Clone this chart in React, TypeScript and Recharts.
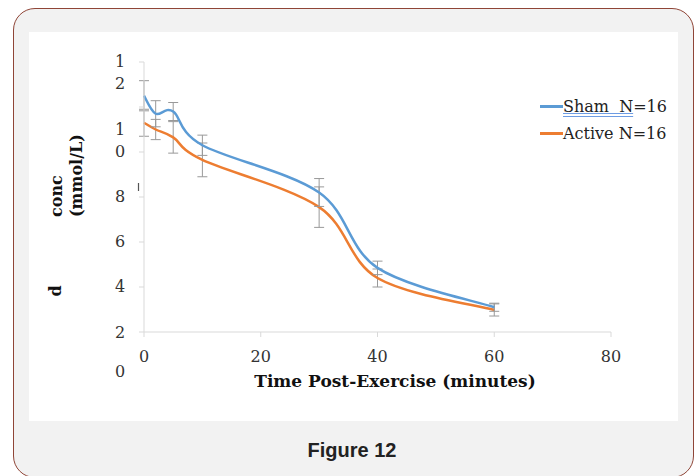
import React from 'react';
import { LineChart, Line, XAxis, YAxis, ErrorBar, Legend } from 'recharts';

// blood lactate after exercise, mean ± error
const minutes = [0, 2, 5, 10, 30, 40, 60];
const shamConc = [10.5, 9.7, 9.8, 8.3, 6.2, 2.85, 1.1];
const shamErr = [0.67, 0.58, 0.4, 0.45, 0.62, 0.3, 0.18];
const activeConc = [9.3, 9.0, 8.65, 7.65, 5.55, 2.4, 0.98];
const activeErr = [0.6, 0.45, 0.7, 0.75, 0.9, 0.4, 0.27];

const xTicks = [0, 20, 40, 60, 80];
const yTicks = [0, 2, 4, 6, 8, 10, 12];
const yTickLabels = ['0', '2', '4', '6', '8', '10', '12'];
const seriesNames = ['Sham  N=16', 'Active N=16'];

const data = minutes.map((t, i) => ({
  t,
  sham: shamConc[i],
  shamErr: shamErr[i],
  active: activeConc[i],
  activeErr: activeErr[i],
}));

const SERIF = '"DejaVu Serif", serif';
const BLUE = '#5b9bd5';
const ORANGE = '#ed7d31';

// Excel-style smoothed line (cardinal bezier, 1/6 tangents)
const excelCurve = (context: any) => {
  let pts: [number, number][] = [];
  return {
    areaStart() {},
    areaEnd() {},
    lineStart() {
      pts = [];
    },
    point(x: number, y: number) {
      pts.push([+x, +y]);
    },
    lineEnd() {
      if (!pts.length) return;
      context.moveTo(pts[0][0], pts[0][1]);
      for (let i = 0; i < pts.length - 1; i++) {
        const p0 = pts[i - 1] || pts[i];
        const p1 = pts[i];
        const p2 = pts[i + 1];
        const p3 = pts[i + 2] || p2;
        context.bezierCurveTo(
          p1[0] + (p2[0] - p0[0]) / 6,
          p1[1] + (p2[1] - p0[1]) / 6,
          p2[0] - (p3[0] - p1[0]) / 6,
          p2[1] - (p3[1] - p1[1]) / 6,
          p2[0],
          p2[1]
        );
      }
    },
  };
};

// the y labels in the figure are wrapped digit by digit and sit below their ticks
const LAST_DIGIT_SHIFT = [39, 45, 44, 44, 44, 44, 21];

const YTick = (props: any) => {
  const { y, payload } = props;
  const idx = yTicks.indexOf(payload.value);
  const label = yTickLabels[idx] ?? String(payload.value);
  const chars = label.split('');
  const last = LAST_DIGIT_SHIFT[idx] ?? 0;
  return (
    <g>
      {chars.map((c, k) => (
        <text
          key={k}
          x={91}
          y={y + last - (chars.length - 1 - k) * 22}
          dy="0.36em"
          textAnchor="middle"
          fontFamily={SERIF}
          fontSize={16}
          fill="#333"
        >
          {c}
        </text>
      ))}
    </g>
  );
};

const XTick = (props: any) => {
  const { x, y, payload } = props;
  return (
    <text x={x} y={y + 17} dy="0.36em" textAnchor="middle" fontFamily={SERIF} fontSize={16} fill="#333">
      {payload.value}
    </text>
  );
};

const XTitle = () => (
  <text x={366} y={355} textAnchor="middle" fontFamily={SERIF} fontSize={17} fontWeight="bold" fill="#111">
    Time Post-Exercise (minutes)
  </text>
);

const YTitle = () => (
  <g fontFamily={SERIF} fontSize={16} fontWeight="bold" fill="#111">
    <text transform="translate(33,185) rotate(-90)">conc</text>
    <text transform="translate(53,185) rotate(-90)">(mmol/L)</text>
    <text transform="translate(32,259) rotate(-90)" textAnchor="middle">d</text>
    {/* stray mark left over in the original figure */}
    <line x1={109.5} y1={151} x2={109.5} y2={159} stroke="#555" strokeWidth={1.2} />
  </g>
);

const LegendBox = () => {
  const colors = [BLUE, ORANGE];
  return (
    <div style={{ fontFamily: SERIF, fontSize: 16, color: '#222' }}>
      {seriesNames.map((name, i) => (
        <div key={name} style={{ display: 'flex', alignItems: 'center', height: 27 }}>
          <span style={{ width: 23, height: 2.5, background: colors[i], display: 'inline-block' }} />
          <span style={{ whiteSpace: 'pre' }}>
            {i === 0 ? (
              <>
                <span style={{ textDecoration: 'underline double #6d9ce3' }}>{name.slice(0, 7)}</span>
                {name.slice(7)}
              </>
            ) : (
              name
            )}
          </span>
        </div>
      ))}
    </div>
  );
};

export default function App() {
  return (
    <div style={{ position: 'absolute', left: 0, top: 0, width: 696, height: 476, overflow: 'hidden', background: '#fff' }}>
      <div
        style={{
          position: 'absolute',
          left: 13,
          top: 8,
          width: 681,
          height: 470,
          boxSizing: 'border-box',
          border: '1.5px solid #8f4537',
          borderRadius: 22,
          background: '#f2f2f2',
        }}
      />
      <div style={{ position: 'absolute', left: 29, top: 32, width: 649, height: 389, background: '#fff' }}>
        <LineChart width={649} height={389} data={data} margin={{ top: 30, right: 67, left: 0, bottom: 59 }}>
          <XAxis
            dataKey="t"
            type="number"
            domain={[0, 80]}
            ticks={xTicks}
            height={30}
            stroke="#d9d9d9"
            tickSize={5}
            tick={<XTick />}
            label={<XTitle />}
          />
          <YAxis
            type="number"
            domain={[0, 12]}
            ticks={yTicks}
            width={115}
            stroke="#d9d9d9"
            tickSize={5}
            tick={<YTick />}
            label={<YTitle />}
          />
          <Legend
            layout="horizontal"
            verticalAlign="middle"
            align="center"
            content={<LegendBox />}
            wrapperStyle={{ position: 'absolute', left: 511, top: 61, width: 130 }}
          />
          <Line
            dataKey="active"
            name={seriesNames[1]}
            stroke={ORANGE}
            strokeWidth={2.5}
            dot={false}
            type={excelCurve as any}
            isAnimationActive={false}
          >
            <ErrorBar dataKey="activeErr" width={5} stroke="#999" strokeWidth={1} />
          </Line>
          <Line
            dataKey="sham"
            name={seriesNames[0]}
            stroke={BLUE}
            strokeWidth={2.5}
            dot={false}
            type={excelCurve as any}
            isAnimationActive={false}
          >
            <ErrorBar dataKey="shamErr" width={5} stroke="#999" strokeWidth={1} />
          </Line>
        </LineChart>
      </div>
      <div
        style={{
          position: 'absolute',
          left: 252,
          width: 200,
          top: 439,
          textAlign: 'center',
          fontFamily: '"Liberation Sans", Arial, sans-serif',
          fontWeight: 'bold',
          fontSize: 20,
          color: '#222',
        }}
      >
        Figure 12
      </div>
    </div>
  );
}
